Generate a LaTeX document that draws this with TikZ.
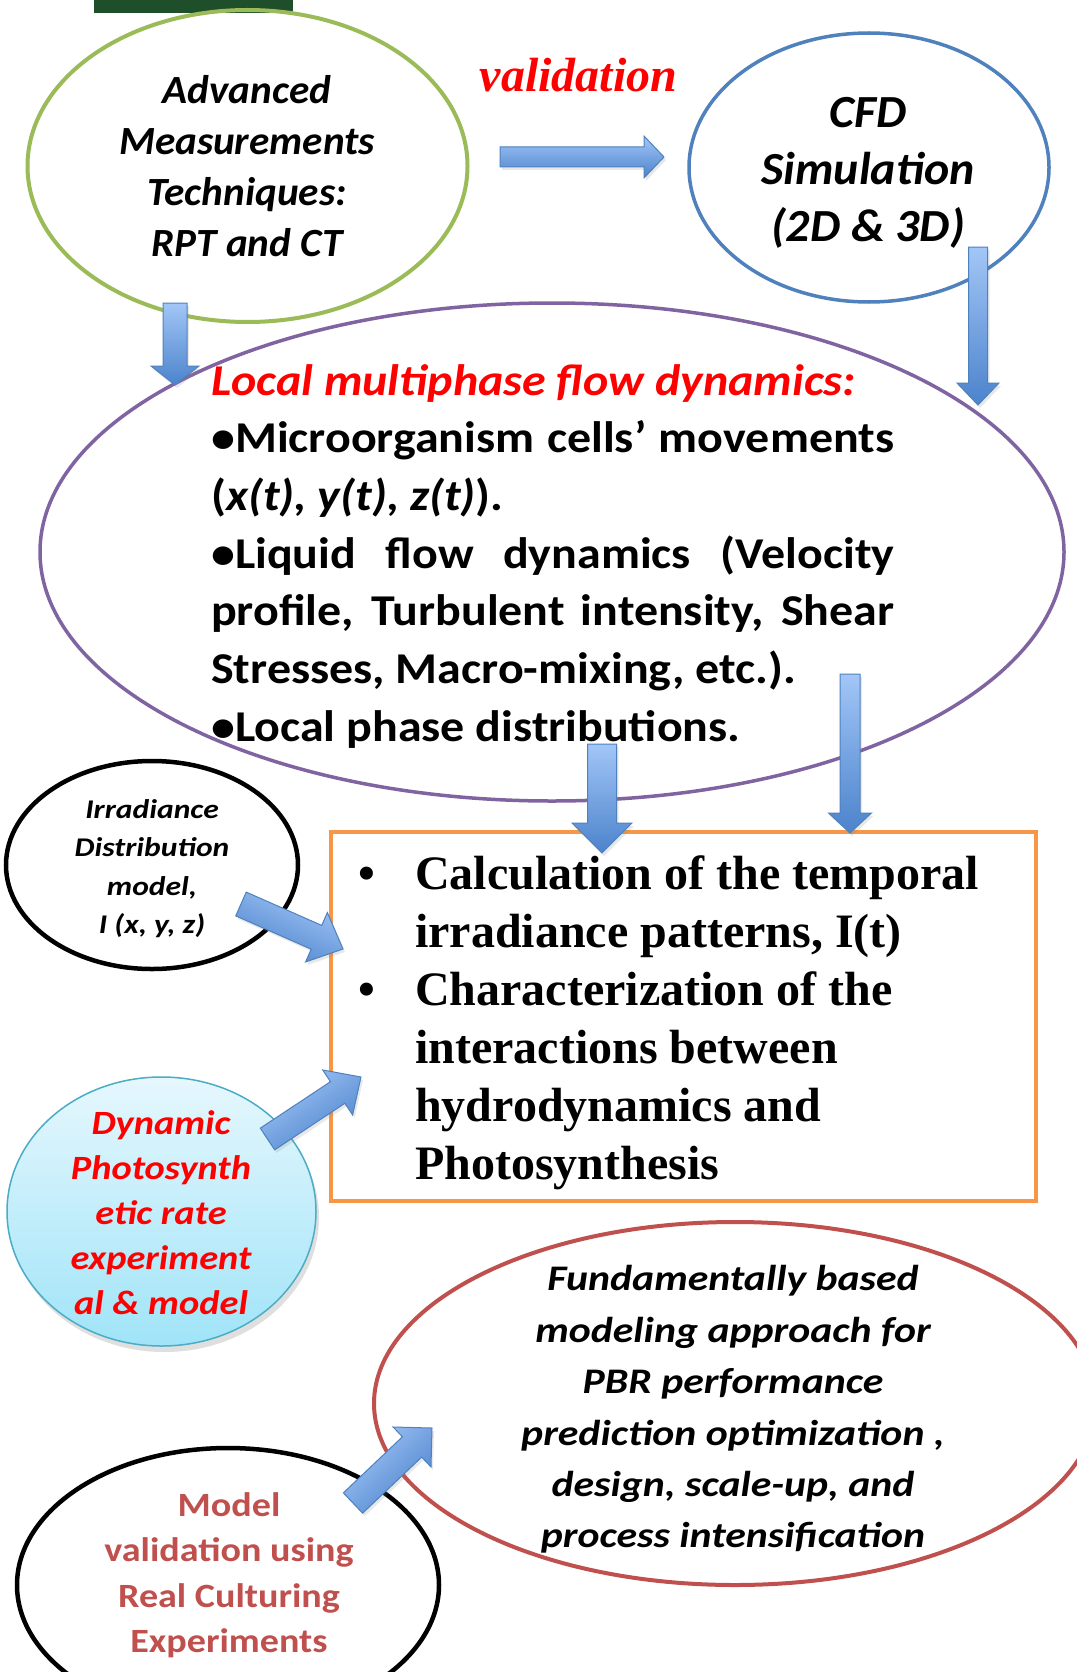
\documentclass[tikz,border=0pt]{standalone}
\usepackage{fontspec}
\setmainfont{Liberation Serif}
\newfontfamily\calGreen[FakeStretch=1.03]{Carlito}
\newfontfamily\calCfd[FakeStretch=1.04]{Carlito}
\newfontfamily\calLocal[FakeStretch=1.09]{Carlito}
\newfontfamily\calIrr[FakeStretch=1.17]{Carlito}
\newfontfamily\calDyn[FakeStretch=1.13]{Carlito}
\newfontfamily\calFund[FakeStretch=1.16]{Carlito}
\newfontfamily\calMod[FakeStretch=1.12]{Carlito}
\usetikzlibrary{shapes.geometric,calc,shadows}
\definecolor{dkgreen}{HTML}{1E4E2A}
\definecolor{grn}{HTML}{9BBB59}
\definecolor{cfdblue}{HTML}{4F81BD}
\definecolor{purp}{HTML}{8064A2}
\definecolor{orng}{HTML}{F79646}
\definecolor{redel}{HTML}{C0504D}
\definecolor{cyanedge}{HTML}{4BACC6}
\definecolor{cyantop}{HTML}{E6F7FD}
\definecolor{cyanbot}{HTML}{A0E4F8}
\definecolor{arrowlight}{HTML}{A2C6F7}
\definecolor{arrowdark}{HTML}{4C83CC}
\definecolor{arrowedge}{HTML}{4F81BD}
\definecolor{pured}{HTML}{FF0000}
\newcommand{\blockarr}[6]{%
  \coordinate (ba-neck) at ($(#2)!#5!(#1)$);
  \path[blockarrow, shading angle=#6]
    ($(#1)!#3!90:(#2)$) -- ($(ba-neck)!#3!90:(#2)$) -- ($(ba-neck)!#4!90:(#2)$) -- (#2)
    -- ($(ba-neck)!#4!-90:(#2)$) -- ($(ba-neck)!#3!-90:(#2)$) -- ($(#1)!#3!-90:(#2)$) -- cycle;
}
\begin{document}
\begin{tikzpicture}[x=1pt,y=-1pt,
  oval/.style={ellipse, inner sep=0pt},
  blockarrow/.style={draw=arrowedge, line width=1pt, top color=arrowlight, bottom color=arrowdark,
    drop shadow={opacity=0.18, shadow xshift=2pt, shadow yshift=-3pt}},
]
\useasboundingbox[fill=white] (0,0) rectangle (1076,1672);
\fill[dkgreen] (94,0) rectangle (293,13);

% ellipses and box
\node[oval, draw=grn, line width=4pt, minimum width=440pt, minimum height=312pt] (meas) at (247.5,166) {};
\node[oval, draw=cfdblue, line width=3.5pt, minimum width=360pt, minimum height=269pt] (cfd) at (869,167.5) {};
\node[oval, draw=purp, line width=3.5pt, minimum width=1024pt, minimum height=498pt] (local) at (552,552) {};
\node[draw=orng, line width=4pt, minimum width=705pt, minimum height=369pt, inner sep=0pt] (calc) at (683.5,1016.5) {};
\node[oval, draw=black, line width=4.5pt, minimum width=292pt, minimum height=208pt] (irr) at (152,865) {};
\node[oval, draw=cyanedge, line width=1.5pt, top color=cyantop, bottom color=cyanbot,
      drop shadow={opacity=0.25, shadow xshift=3pt, shadow yshift=-6pt},
      minimum width=309pt, minimum height=269pt] (dyn) at (161.5,1211.5) {};
\node[oval, draw=redel, line width=4pt, minimum width=722pt, minimum height=363pt] (fund) at (735,1403.5) {};
\node[oval, draw=black, line width=4.5pt, minimum width=422pt, minimum height=274pt] (modv) at (228,1585) {};

% texts
\node[font={\bfseries\itshape\fontsize{48}{58}\selectfont}, text=pured, anchor=base] (valtxt) at (578.5,92) {validation};
\node[align=center, font={\calGreen\bfseries\itshape\fontsize{40}{51}\selectfont}] (meastxt) at (247,166)
  {Advanced\\Measurements\\Techniques:\\RPT and CT};
\node[align=center, font={\calCfd\bfseries\itshape\fontsize{46}{57}\selectfont}] (cfdtxt) at (868,172.5)
  {CFD\\Simulation\\(2D \& 3D)};
\node[align=left, anchor=north west, inner sep=0pt, font={\calLocal\bfseries\fontsize{44}{57.7}\selectfont}] (localtxt) at (211,364)
  {{\color{pured}\itshape Local multiphase flow dynamics:}\\
   \makebox[683pt][s]{•Microorganism cells’ movements}\\
   ({\itshape x(t), y(t), z(t)}).\\
   \makebox[683pt][s]{•Liquid flow dynamics (Velocity}\\
   \makebox[683pt][s]{profile, Turbulent intensity, Shear}\\
   Stresses, Macro-mixing, etc.).\\
   •Local phase distributions.};
\node[align=left, anchor=north west, inner sep=0pt, font={\bfseries\fontsize{48}{58}\selectfont}] (calctxt) at (358,855)
  {\makebox[57pt][l]{\textbullet}Calculation of the temporal\\
   \hspace*{57pt}irradiance patterns, I(t)\\
   \makebox[57pt][l]{\textbullet}Characterization of the\\
   \hspace*{57pt}interactions between\\
   \hspace*{57pt}hydrodynamics and\\
   \hspace*{57pt}Photosynthesis};
\node[align=center, font={\calIrr\bfseries\itshape\fontsize{27}{38.3}\selectfont}] (irrtxt) at (152,868.5)
  {Irradiance\\Distribution\\model,\\I (x, y, z)};
\node[align=center, text=pured, font={\calDyn\bfseries\itshape\fontsize{34}{45}\selectfont}] (dyntxt) at (161,1213)
  {Dynamic\\Photosynth\\etic rate\\experiment\\al \& model};
\node[align=center, font={\calFund\bfseries\itshape\fontsize{36}{51.4}\selectfont}] (fundtxt) at (733,1409.5)
  {Fundamentally based\\modeling approach for\\PBR performance\\prediction optimization ,\\design, scale-up, and\\process intensification};
\node[align=center, text=redel, font={\calMod\bfseries\fontsize{34}{45.5}\selectfont}] (modtxt) at (229,1575)
  {Model\\validation using\\Real Culturing\\Experiments};

% arrow end points
\coordinate (v1) at (500,157);   \coordinate (v2) at (664,157);
\coordinate (m1) at (175,303);   \coordinate (m2) at (175,385);
\coordinate (c1) at (978,247);   \coordinate (c2) at (978,405);
\coordinate (l1) at (602,744);   \coordinate (l2) at (602,853);
\coordinate (r1) at (850,674);   \coordinate (r2) at (850,833);
\coordinate (i1) at (241,904);   \coordinate (i2) at (343,949);
\coordinate (d1) at (267.5,1139);\coordinate (d2) at (361,1077);
\coordinate (o1) at (353,1503);  \coordinate (o2) at (432,1428);

\blockarr{v1}{v2}{10pt}{21pt}{20pt}{0}
\blockarr{m1}{m2}{12pt}{24pt}{19pt}{0}
\blockarr{c1}{c2}{9.5pt}{21pt}{22pt}{0}
\blockarr{l1}{l2}{14.5pt}{30pt}{30pt}{0}
\blockarr{r1}{r2}{10pt}{21.5pt}{20pt}{0}
\blockarr{i1}{i2}{13pt}{27pt}{29pt}{-24}
\blockarr{d1}{d2}{13pt}{27pt}{28pt}{34}
\blockarr{o1}{o2}{14pt}{27.5pt}{27.5pt}{44}
\end{tikzpicture}
\end{document}
